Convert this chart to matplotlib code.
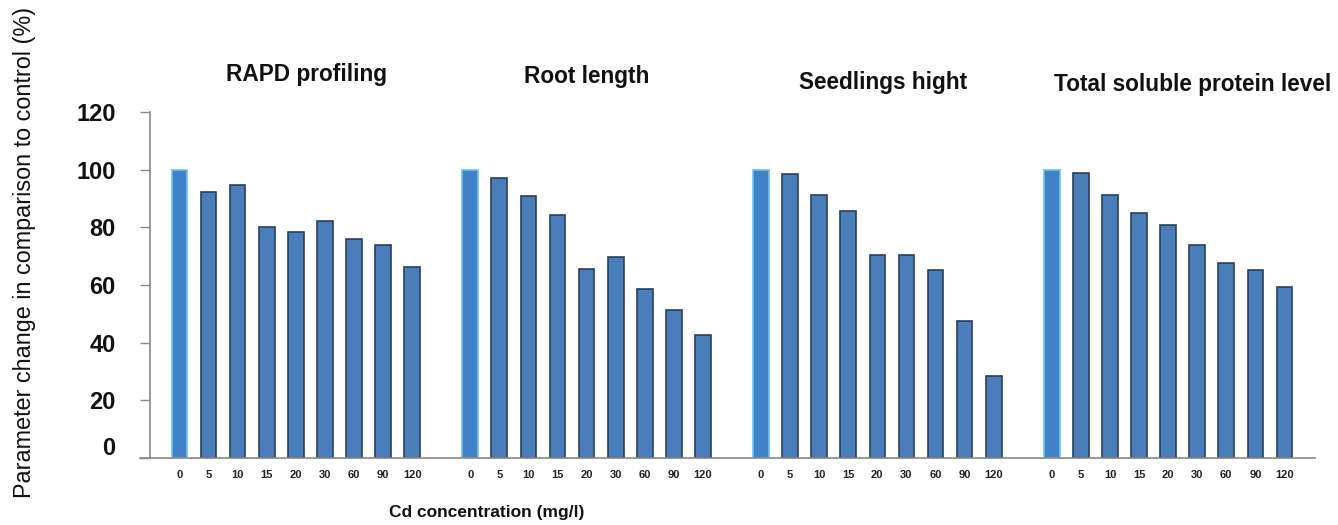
import matplotlib
matplotlib.use("Agg")
import matplotlib.pyplot as plt
from matplotlib.transforms import ScaledTranslation

concentrations = ["0", "5", "10", "15", "20", "30", "60", "90", "120"]
panel_titles = ["RAPD profiling", "Root length", "Seedlings hight", "Total soluble protein level"]
rapd = [100, 92.4, 94.7, 80.0, 78.5, 82.3, 76.1, 73.8, 66.1]
root_length = [100, 97.0, 90.9, 84.3, 65.6, 69.8, 58.5, 51.3, 42.7]
seedling_height = [100, 98.5, 91.3, 85.7, 70.3, 70.3, 65.2, 47.5, 28.6]
protein = [100, 99.0, 91.3, 84.8, 80.9, 73.8, 67.6, 65.2, 59.4]
series = [rapd, root_length, seedling_height, protein]
yticks = [0, 20, 40, 60, 80, 100, 120]

W, H = 1338, 525
fig = plt.figure(figsize=(W / 100, H / 100), dpi=100)
ax = fig.add_axes([140 / W, (H - 458) / H, (1315 - 140) / W, (458 - 112) / H])

narrow = ["Liberation Sans Narrow", "Liberation Sans", "DejaVu Sans"]
arial = ["Liberation Sans", "DejaVu Sans"]

for s in ["top", "right"]:
    ax.spines[s].set_visible(False)
ax.spines["left"].set_position(("data", -1.0))
ax.spines["left"].set_bounds(0, 120)
ax.spines["left"].set_color("#888888")
ax.spines["bottom"].set_color("#888888")
ax.spines["left"].set_linewidth(1.2)
ax.spines["bottom"].set_linewidth(1.2)

positions, labels = [], []
for g, vals in enumerate(series):
    xs = [g * 10 + i for i in range(len(vals))]
    for i, (x, v) in enumerate(zip(xs, vals)):
        if i == 0:
            ax.bar(x, v, width=0.54, color="#3f82c8", edgecolor="#6cc3f0", linewidth=1.2)
        else:
            ax.bar(x, v, width=0.54, color="#4a7ebb", edgecolor="#2b3f5c", linewidth=1.2)
    positions += xs
    labels += concentrations

ax.set_xlim(-1.358, 39.05)
ax.set_ylim(0, 120)
ax.tick_params(axis="x", length=0, pad=9)
ax.tick_params(axis="y", length=7, width=1, color="#888888", pad=18)
ax.set_xticks(positions)
ax.set_xticklabels(labels, fontsize=8, fontweight="bold", family=narrow, color="#222222")
ax.set_yticks(yticks)
ax.set_yticklabels([str(t) for t in yticks], fontsize=17, fontweight="bold", family=arial, color="#111111")
lbl0 = ax.get_yticklabels()[0]
lbl0.set_transform(lbl0.get_transform() + ScaledTranslation(0, 0.12, fig.dpi_scale_trans))

title_pos = [(307, 75), (587, 76), (883, 83), (1193, 85)]
for t, (px, py) in zip(panel_titles, title_pos):
    fig.text(px / W, 1 - py / H, t, ha="center", va="center", fontsize=16.3,
             fontweight="bold", family=arial, color="#111111")

fig.text(25 / W, 1 - 252 / H, "Parameter change in comparison to control (%)", rotation=90,
         ha="center", va="center", fontsize=16.8, family=arial, color="#111111")
fig.text(487 / W, 1 - 512 / H, "Cd concentration (mg/l)", ha="center", va="center",
         fontsize=12.5, fontweight="bold", family=narrow, color="#111111")

fig.savefig("out.png", dpi=100)
